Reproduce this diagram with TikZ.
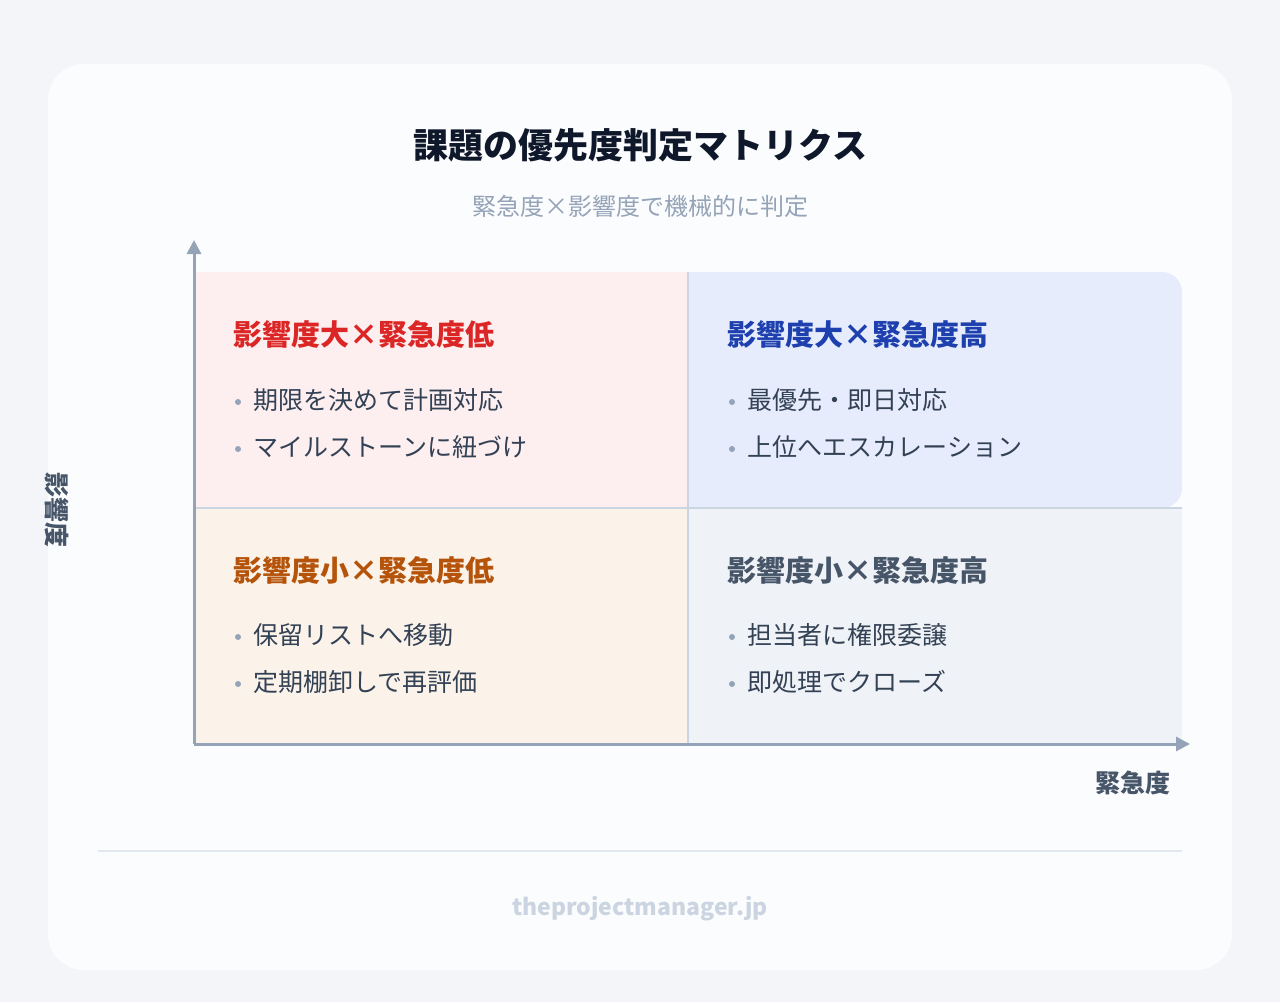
\documentclass[tikz,border=0pt]{standalone}
\usepackage{fontspec}
\setmainfont{Noto Sans CJK JP}
\usetikzlibrary{positioning,arrows.meta}
\definecolor{bgc}{HTML}{F3F5F9}
\definecolor{titlec}{HTML}{0F172A}
\definecolor{subc}{HTML}{94A3B8}
\definecolor{axisc}{HTML}{94A3B8}
\definecolor{divc}{HTML}{CBD5E1}
\definecolor{redc}{HTML}{DC2626}
\definecolor{bluec}{HTML}{1E40AF}
\definecolor{orac}{HTML}{B45309}
\definecolor{slatec}{HTML}{475569}
\definecolor{textc}{HTML}{334155}
\definecolor{qred}{HTML}{FDEEEF}
\definecolor{qblue}{HTML}{E6ECFC}
\definecolor{qora}{HTML}{FBF3EA}
\definecolor{qgray}{HTML}{EFF2F6}
\definecolor{rulec}{HTML}{E2E8F0}
\tikzset{
  head/.style={anchor=west,font=\fontsize{29}{34}\selectfont\bfseries},
  item/.style={anchor=west,font=\fontsize{25}{30}\selectfont,text=textc},
  dot/.style={circle,fill=subc,inner sep=0pt,minimum size=6pt},
  axislab/.style={font=\fontsize{25}{30}\selectfont\bfseries,text=slatec},
}
\begin{document}
\begin{tikzpicture}[x=1pt,y=-1pt]
	% Background and card
	\fill[bgc] (0,0) rectangle (1280,1002);
	\useasboundingbox (0,0) rectangle (1280,1002);
	\fill[white!70!bgc,rounded corners=36pt] (48,64) rectangle (1232,970);
	
	\node[font=\fontsize{35}{40}\selectfont\bfseries,text=titlec] (title) at (640,145) {課題の優先度判定マトリクス};
	\node[font=\fontsize{24}{28}\selectfont,text=subc] (sub) at (640,206) {緊急度×影響度で機械的に判定};
	
	% Quadrants
	\fill[qred] (195,272) rectangle (688,508);
	\fill[qblue,rounded corners=20pt] (688,272) -- (1182,272) -- (1182,508) [sharp corners]-- (688,508) -- cycle;
	\fill[qora] (195,508) rectangle (688,744);
	\fill[qgray] (688,508) rectangle (1182,744);
	\draw[divc,line width=2pt] (688,272) -- (688,744) (195,508) -- (1182,508);
	
	% Axis
	\coordinate (o) at (194,744);
	\coordinate (ytop) at (194,240);
	\coordinate (xend) at (1190,744);
	\draw[axisc,line width=3pt,-{Triangle[length=14pt,width=14pt]}] (o) -- (ytop);
	\draw[axisc,line width=3pt,-{Triangle[length=14pt,width=14pt]}] (o) -- (xend);
	\node[axislab,rotate=-90] (ylab) at (57,510) {影響度};
	\node[axislab] (xlab) at (1133,783) {緊急度};
	
	% Headings
	\node[head,text=redc] (h1) at (230,334) {影響度大×緊急度低};
	\node[head,text=bluec] (h2) at (724,334) {影響度大×緊急度高};
	\node[head,text=orac] (h3) at (230,570) {影響度小×緊急度低};
	\node[head,text=slatec] (h4) at (724,570) {影響度小×緊急度高};
	
	% Items
	\foreach \x/\y/\t in {256/400/期限を決めて計画対応, 256/447/マイルストーンに紐づけ,
		750/400/最優先・即日対応, 750/447/上位へエスカレーション,
		256/635/保留リストへ移動, 256/682/定期棚卸しで再評価,
		750/635/担当者に権限委譲, 750/682/即処理でクローズ}
	{
		\node[dot] at (\x-18,\y+2) {};
		\node[item] at (\x-6,\y) {\t};
	}
	
	% Footer
	\draw[rulec,line width=1.5pt] (98,851) -- (1182,851);
	\node[font=\fontsize{23}{28}\selectfont\bfseries,text=divc] (foot) at (640,909) {theprojectmanager.jp};
\end{tikzpicture}
\end{document}
